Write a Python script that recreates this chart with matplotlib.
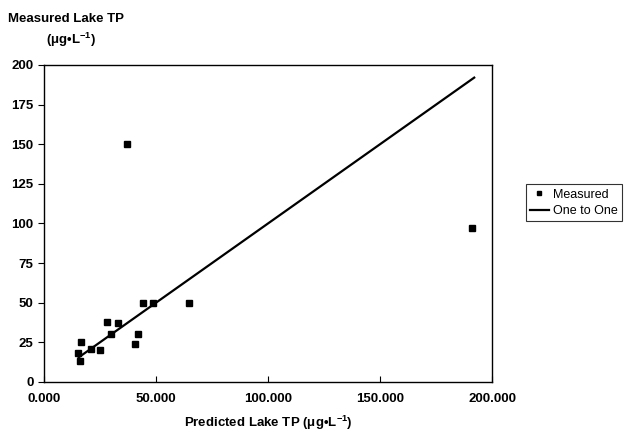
import matplotlib
matplotlib.use("Agg")
import matplotlib.pyplot as plt
import numpy as np
from matplotlib.ticker import FormatStrFormatter

plt.rcParams['font.family'] = ['Liberation Sans', 'DejaVu Sans']
plt.rcParams['mathtext.fontset'] = 'custom'
plt.rcParams['mathtext.rm'] = 'Liberation Sans:bold'
plt.rcParams['mathtext.default'] = 'rm'

# predicted vs measured lake TP (ug/L)
predicted = [37, 191, 44, 48.5, 64.5, 28, 33, 30, 42, 40.5, 16.5, 21, 25, 15, 16]
measured = [150, 97, 50, 50, 50, 38, 37, 30, 30, 24, 25, 21, 20, 18.5, 13]
line_x = [15.5, 192]
line_y = [15.5, 192]

fig = plt.figure(figsize=(6.25, 4.33), dpi=100)
ax = fig.add_axes([0.0704, 0.118, 0.717, 0.732])

ax.plot(predicted, measured, 's', color='black', markersize=3.8, label='Measured')
ax.plot(line_x, line_y, '-', color='black', linewidth=1.6, label='One to One')

ax.set_xlim(0, 200)
ax.set_ylim(0, 200)
ax.set_xticks([0, 50, 100, 150, 200])
ax.set_yticks(np.arange(0, 201, 25))
ax.xaxis.set_major_formatter(FormatStrFormatter('%.3f'))
ax.tick_params(axis='x', direction='in', length=4, pad=8)
ax.tick_params(axis='y', direction='out', length=4)
for lbl in ax.get_xticklabels() + ax.get_yticklabels():
    lbl.set_fontweight('bold')
    lbl.set_fontsize(9.5)
for s in ax.spines.values():
    s.set_linewidth(1.0)

ax.set_xlabel('Predicted Lake TP (\u03bcg\u2022L$^{-1}$)', fontsize=9.5, fontweight='bold', labelpad=6)
fig.text(0.013, 0.955, 'Measured Lake TP', fontsize=9.5, fontweight='bold', ha='left', va='center')
fig.text(0.073, 0.907, '(\u03bcg\u2022L$^{-1}$)', fontsize=9.5, fontweight='bold', ha='left', va='center')

leg = ax.legend(loc='center left', bbox_to_anchor=(1.075, 0.565), frameon=True, fancybox=False,
                fontsize=9, handlelength=1.5, borderpad=0.35, labelspacing=0.35, handletextpad=0.3,
                borderaxespad=0)
leg.get_frame().set_edgecolor('black')
leg.get_frame().set_linewidth(0.8)
leg.legend_handles[0].set_markersize(3.2)

plt.savefig('out.png', dpi=100)
plt.close(fig)
